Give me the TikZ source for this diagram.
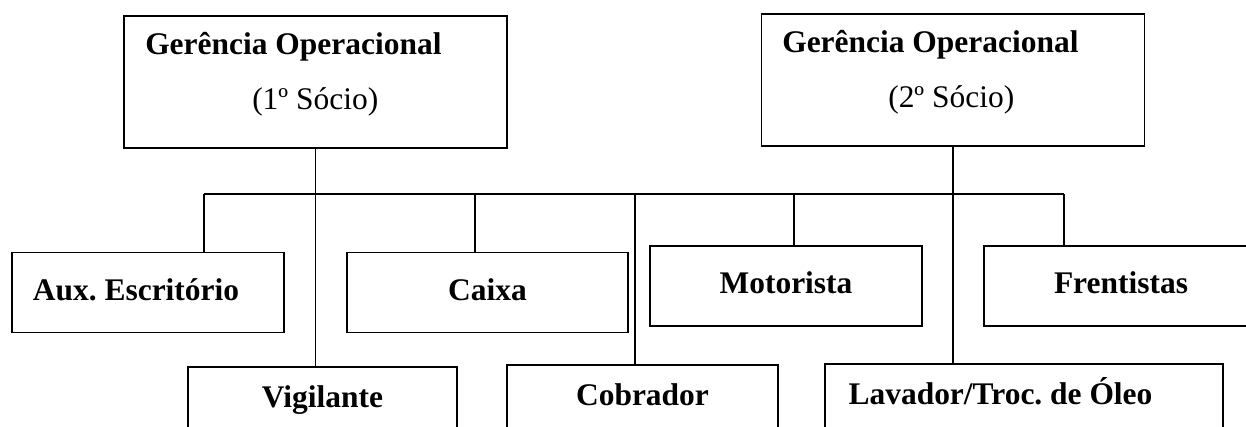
\documentclass[tikz,border=0pt]{standalone}
\usepackage{fontspec}
\setmainfont{Liberation Serif}
\frenchspacing

\begin{document}
\begin{tikzpicture}[x=0.75pt,y=0.75pt,yscale=-1,xscale=1,
  cargo/.style={draw, line width=1.1pt, inner sep=0pt, minimum height=60pt,
    text height=17pt, text depth=5pt, font=\fontsize{23.6}{28}\selectfont\bfseries},
  gerencia/.style={draw, line width=1.1pt, inner sep=0pt, minimum width=287.5pt, minimum height=99pt},
  rotulo/.style={anchor=base west, inner sep=0pt, font=\fontsize{23.6}{28}\selectfont},
  liga/.style={line width=1.1pt}]
\useasboundingbox (0,0) rectangle (1246,427);
\clip (0,0) rectangle (1246,427);

%Gerencias
\node [gerencia] (ger1) at (315.5,82) {};
\node [gerencia] (ger2) at (953,80) {};

% Text Node
\draw (145,55) node [rotulo] (ger1a) {\bfseries Gerência Operacional};
% Text Node
\draw (252,110) node [rotulo] (ger1b) {(1º Sócio)};
% Text Node
\draw (782,53) node [rotulo] (ger2a) {\bfseries Gerência Operacional};
% Text Node
\draw (888,108) node [rotulo] (ger2b) {(2º Sócio)};

%Cargos - linha do meio
\node [cargo, minimum width=204pt] (aux) at (148,292.5) {Aux. Escritório\hspace*{18pt}};
\node [cargo, minimum width=210.75pt] (caixa) at (487.5,292.5) {Caixa};
\node [cargo, minimum width=204pt] (motorista) at (786,286) {Motorista};
\node [cargo, minimum width=205.5pt] (frentistas) at (1121,286) {Frentistas};

%Cargos - linha de baixo
\node [cargo, minimum height=49.5pt, minimum width=201.75pt] (vigilante) at (322.5,400) {Vigilante};
\node [cargo, minimum height=49.5pt, minimum width=203.25pt] (cobrador) at (642.5,398) {Cobrador};
\node [cargo, minimum height=49.5pt, minimum width=298.5pt] (lavador) at (1024,397) {Lavador/Troc. de Óleo\hspace*{35.25pt}};

%Barramento
\coordinate (dAux) at (204,194);
\coordinate (dCaixa) at (475,194);
\coordinate (dCob) at (635,194);
\coordinate (dMot) at (794,194);
\coordinate (dFren) at (1064,194);
\draw [liga] (dAux) -- (dFren);

%Ligacoes
\draw [liga] (ger1.south) -- (ger1.south |- vigilante.north);
\draw [liga] (ger2.south) -- (ger2.south |- lavador.north);
\draw [liga] (dAux) -- (dAux |- aux.north);
\draw [liga] (dCaixa) -- (dCaixa |- caixa.north);
\draw [liga] (dCob) -- (dCob |- cobrador.north);
\draw [liga] (dMot) -- (dMot |- motorista.north);
\draw [liga] (dFren) -- (dFren |- frentistas.north);

\end{tikzpicture}
\end{document}
